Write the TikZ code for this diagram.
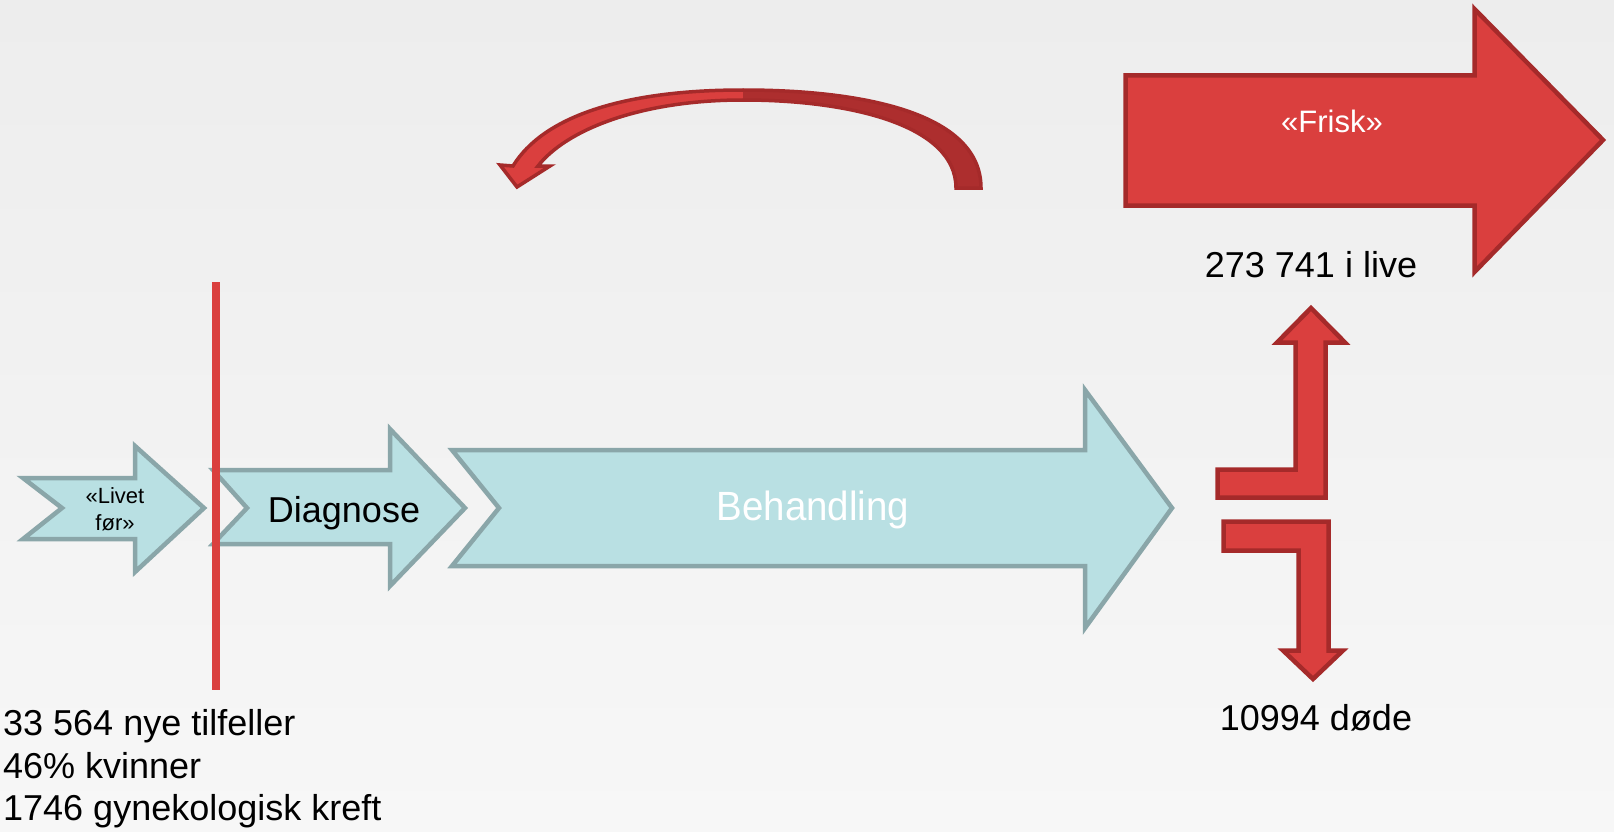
\documentclass[tikz,border=0pt]{standalone}
\usepackage{fontspec}
\setmainfont{Liberation Sans}
\definecolor{cyanfill}{HTML}{B9E0E3}
\definecolor{cyanline}{HTML}{8AA6A9}
\definecolor{redfill}{HTML}{DA3F3E}
\definecolor{redline}{HTML}{A52A2A}
\definecolor{reddark}{HTML}{AD2E2E}
\definecolor{bgtop}{HTML}{EDEDED}
\definecolor{bgbot}{HTML}{F7F7F7}
\tikzset{
  cyanarrow/.style={fill=cyanfill, draw=cyanline, line width=4.5pt, line join=miter},
  redarrow/.style={fill=redfill, draw=redline, line width=4.5pt, line join=miter},
  lbl/.style={inner sep=0pt, anchor=base, text=black, font=\fontsize{36}{43}\selectfont},
  lblw/.style={lbl, anchor=base west},
  small/.style={inner sep=0pt, anchor=base, font=\fontsize{22}{27}\selectfont},
}
\begin{document}
\begin{tikzpicture}[x=1pt,y=-1pt]
\fill[top color=bgtop, bottom color=bgbot] (0,0) rectangle (1614,832);
\useasboundingbox (0,0) rectangle (1614,832);

% cyan arrows
\draw[cyanarrow] (23,478) -- (135,478) -- (135,446) -- (204,508) -- (135,572) -- (135,539) -- (23,539) -- (62,508) -- cycle;
\draw[cyanarrow] (213,470) -- (390,470) -- (390,429) -- (465,508) -- (390,586) -- (390,544) -- (213,544) -- (247,508) -- cycle;
\draw[cyanarrow] (452,450) -- (1085,450) -- (1085,390) -- (1172,508) -- (1085,628) -- (1085,566) -- (452,566) -- (499,508) -- cycle;

% red vertical line
\coordinate (lt) at (216,282);
\coordinate (lb) at (216,690);
\draw[redfill, line width=8pt] (lt) -- (lb);

% texts in cyan arrows
\node[small] (liv1) at (115,503) {«Livet};
\node[small] (liv2) at (115,530) {før»};
\node[lbl] (diag) at (344,522) {Diagnose};
\node[lbl, text=white, font=\fontsize{38.5}{46}\selectfont, yscale=1.06] (beh) at (813,520) {Behandling};

% Frisk arrow
\draw[redarrow] (1125.5,75.5) -- (1474.5,75.5) -- (1474.5,9) -- (1603,140) -- (1474.5,272) -- (1474.5,205.5) -- (1125.5,205.5) -- cycle;
\node[lbl, text=white, font=\fontsize{31}{37}\selectfont] (frisk) at (1332,133) {«Frisk»};

% bent arrows
\draw[redarrow] (1217.5,469.5) -- (1295.5,469.5) -- (1295.5,342.5) -- (1277,342.5) -- (1311,308) -- (1345,342.5) -- (1325.5,342.5) -- (1325.5,497.5) -- (1217.5,497.5) -- cycle;
\draw[redarrow] (1223.5,521.5) -- (1328.5,521.5) -- (1328.5,650.5) -- (1343,650.5) -- (1313,679) -- (1283,650.5) -- (1298.5,650.5) -- (1298.5,550.5) -- (1223.5,550.5) -- cycle;

% curved arrow
\def\curvepath{(981,188) .. controls (981,112) and (860,90) .. (743,90)
  .. controls (622,90) and (543,117) .. (513,166)
  -- (500,165) -- (517,187) -- (550,166) -- (538,166)
  .. controls (566,130) and (640,100) .. (743,100)
  .. controls (850,100) and (956,125) .. (956,188) -- cycle}
\fill[redfill] \curvepath;
\begin{scope}
  \clip (743,60) rectangle (1000,200);
  \fill[reddark] \curvepath;
\end{scope}
\draw[redline, line width=3.5pt, line join=miter] \curvepath;

% labels
\node[lbl] (alive) at (1311,277) {273 741 i live};
\node[lbl] (dead) at (1316,730) {10994 døde};
\node[lblw] (l1) at (3,735) {33 564 nye tilfeller};
\node[lblw] (l2) at (3,778) {46\% kvinner};
\node[lblw] (l3) at (3,820) {1746 gynekologisk kreft};
\end{tikzpicture}
\end{document}
